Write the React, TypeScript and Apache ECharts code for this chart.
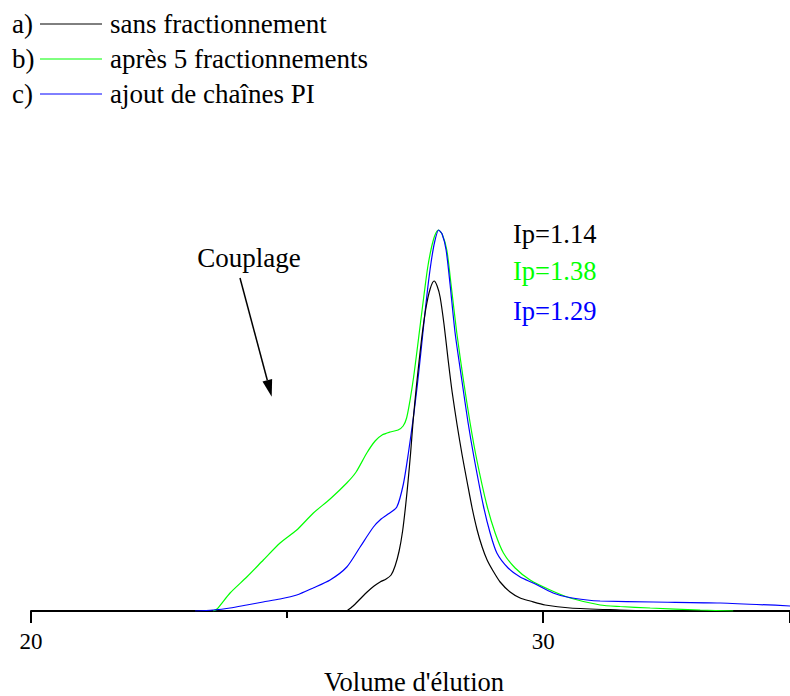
import React, { useEffect, useRef } from "react";
import * as echarts from "echarts";

// ---- data (x = elution volume, y = detector response, arbitrary units) ----
const blackName = "sans fractionnement";
const greenName = "après 5 fractionnements";
const blueName = "ajout de chaînes PI";

const blackX = [26.166, 26.289, 26.426, 26.563, 26.699, 26.816, 26.934, 27.031, 27.109, 27.188, 27.256, 27.314, 27.363, 27.412, 27.461, 27.520, 27.578, 27.646, 27.715, 27.793, 27.871, 27.930, 27.988, 28.066, 28.145, 28.223, 28.320, 28.418, 28.516, 28.613, 28.711, 28.809, 28.906, 29.023, 29.160, 29.355, 29.551, 29.746, 30.039, 30.527, 31.504, 32.148];
const blackY = [0, 5, 12, 19, 25, 29, 32, 36, 45, 60, 80, 105, 130, 158, 190, 222, 250, 280, 304, 322, 330, 325, 314, 286, 251, 219, 186, 156, 129, 103, 81, 64, 51, 40, 29, 19, 13, 10, 6, 3, 1, 0];

const greenX = [23.555, 23.633, 23.887, 24.213, 24.537, 24.863, 25.189, 25.514, 25.840, 26.166, 26.348, 26.557, 26.719, 26.855, 27.012, 27.168, 27.266, 27.334, 27.402, 27.471, 27.539, 27.607, 27.676, 27.744, 27.813, 27.881, 27.955, 28.027, 28.119, 28.203, 28.314, 28.443, 28.574, 28.705, 28.900, 29.063, 29.225, 29.453, 29.746, 30.137, 30.527, 31.113, 31.504, 32.090, 33.066, 33.711];
const greenY = [0, 2, 18, 34, 51, 68, 81, 98, 112, 128, 139, 158, 170, 176, 179, 181, 185, 193, 211, 234, 261, 289, 317, 343, 362, 375, 381, 377, 361, 326, 278, 231, 188, 151, 106, 78, 58, 43, 31, 21, 13, 6, 4.5, 3, 1, 0];

const blueX = [23.203, 23.555, 23.887, 24.213, 24.531, 24.863, 25.189, 25.508, 25.840, 26.166, 26.426, 26.686, 26.836, 26.973, 27.143, 27.271, 27.369, 27.467, 27.539, 27.607, 27.676, 27.744, 27.813, 27.881, 27.959, 28.027, 28.105, 28.184, 28.281, 28.412, 28.535, 28.652, 28.834, 28.965, 29.096, 29.316, 29.551, 29.805, 30.195, 30.469, 30.859, 31.113, 32.148, 33.457, 34.824];
const blueY = [0, 1, 3, 6, 9, 12, 16, 23, 31, 44, 64, 84, 92, 97, 104, 127, 158, 194, 224, 256, 290, 322, 349, 369, 381, 377, 361, 326, 278, 231, 188, 153, 105, 78, 58, 43, 34, 28, 18, 14, 11, 10, 9, 8, 5];

const axisTitle = "Volume d'élution";
const ipLabels = ["Ip=1.14", "Ip=1.38", "Ip=1.29"];
const annotation = "Couplage";

const zip = (xs: number[], ys: number[]) => xs.map((x, i) => [x, ys[i]]);

const FONT = '"Liberation Serif", "Times New Roman", serif';

export default function App() {
  const ref = useRef<HTMLDivElement>(null);
  useEffect(() => {
    if (!ref.current) return;
    const chart = echarts.init(ref.current, null, { renderer: "svg" });
    const txt = (text: string, x: number, y: number, fill = "#000", size = 27, align = "left") => ({
      type: "text",
      x,
      y,
      silent: true,
      style: { text, fill, fontSize: size, fontFamily: FONT, verticalAlign: "middle", align },
    });
    const seg = (y: number, color: string) => ({
      type: "line",
      silent: true,
      shape: { x1: 40, y1: y, x2: 102, y2: y },
      style: { stroke: color, lineWidth: 1 },
    });
    const lineSeries = (name: string, data: number[][], color: string, z: number) => ({
      type: "line",
      name,
      data,
      showSymbol: false,
      symbol: "none",
      smooth: 0.25,
      silent: true,
      z,
      lineStyle: { color, width: 1.2 },
      itemStyle: { color },
    });
    // arrow geometry
    const ax1 = 240, ay1 = 278, tx = 271.7, ty = 396.7;
    const dx = tx - ax1, dy = ty - ay1, len = Math.hypot(dx, dy);
    const ux = dx / len, uy = dy / len;
    const bx = tx - 17 * ux, by = ty - 17 * uy;
    const px = -uy * 5, py = ux * 5;
    chart.setOption({
      animation: false,
      grid: { left: 31, right: 0, top: 211, bottom: 85, outerBoundsMode: "none" },
      xAxis: {
        type: "value",
        min: 20,
        max: 34.82,
        interval: 10,
        name: axisTitle,
        nameLocation: "middle",
        nameGap: 71,
        nameTextStyle: { fontFamily: FONT, fontSize: 26.5, lineHeight: 26, color: "#000", verticalAlign: "middle", padding: [0, 0, 0, 7] },
        splitLine: { show: false },
        axisLine: { onZero: false, lineStyle: { color: "#000", width: 2 } },
        axisTick: { length: 12, lineStyle: { color: "#000", width: 2 } },
        minorTick: { show: true, splitNumber: 2, length: 7, lineStyle: { color: "#000", width: 2 } },
        axisLabel: {
          margin: 30,
          fontFamily: FONT,
          fontSize: 23,
          color: "#000",
          verticalAlign: "middle",
          showMaxLabel: false,
          formatter: (v: number) => (v % 10 === 0 ? String(v) : ""),
        },
      },
      yAxis: { type: "value", min: 0, max: 400, show: false },
      series: [
        lineSeries(greenName, zip(greenX, greenY), "#00ff00", 2),
        lineSeries(blueName, zip(blueX, blueY), "#0000ff", 3),
        lineSeries(blackName, zip(blackX, blackY), "#000000", 4),
      ],
      graphic: [
        txt("a)", 12, 24),
        seg(24, "#000000"),
        txt(blackName, 110, 24),
        txt("b)", 12, 59),
        seg(59, "#00ff00"),
        txt(greenName, 110, 59),
        txt("c)", 12, 94),
        seg(94, "#0000ff"),
        txt(blueName, 110, 94),
        txt(ipLabels[0], 513, 234, "#000", 26.5),
        txt(ipLabels[1], 513, 271, "#00ff00", 26.5),
        txt(ipLabels[2], 513, 311, "#0000ff", 26.5),
        txt(annotation, 249, 258, "#000", 27, "center"),
        {
          type: "line",
          silent: true,
          shape: { x1: ax1, y1: ay1, x2: bx, y2: by },
          style: { stroke: "#000", lineWidth: 1.5 },
        },
        {
          type: "polygon",
          silent: true,
          shape: { points: [[tx, ty], [bx + px, by + py], [bx - px, by - py]] },
          style: { fill: "#000" },
        },
      ],
    });
    return () => chart.dispose();
  }, []);
  return (
    <div
      ref={ref}
      style={{ position: "fixed", left: 0, top: 0, width: 790, height: 696, background: "#fff" }}
    />
  );
}
